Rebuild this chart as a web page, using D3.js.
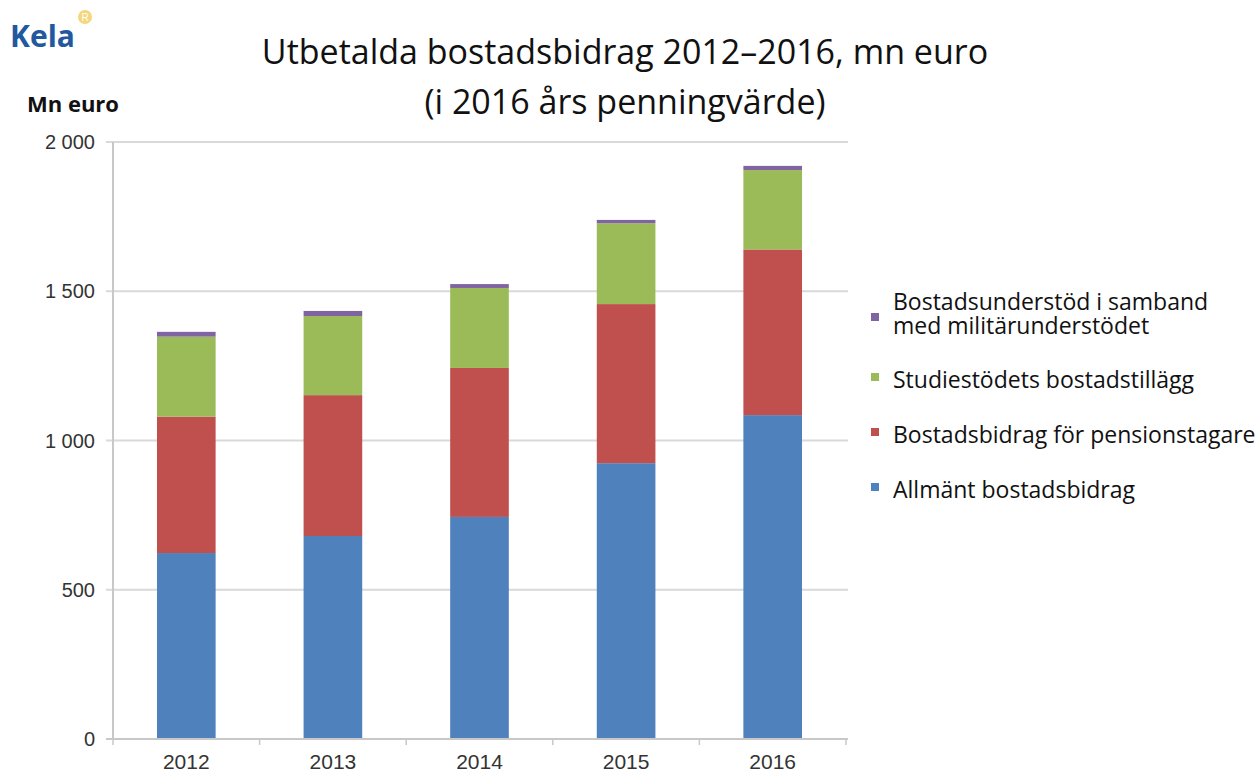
<!DOCTYPE html>
<html>
<head>
<meta charset="utf-8">
<script src="https://cdn.jsdelivr.net/npm/d3@7"></script>
<style>
  body { margin: 0; background: #fff; }
  svg { display: block; }
</style>
</head>
<body>
<div id="chart"></div>
<script>
// data (mn euro)
var years = ["2012", "2013", "2014", "2015", "2016"];
var allmant = [623, 680, 744, 924, 1085];
var pension = [457, 472, 499, 533, 555];
var studie = [268, 265, 268, 271, 266];
var militar = [16, 17, 13, 11, 14];
var yTicks = [0, 500, 1000, 1500, 2000];

var seriesColors = ["#4f81bd", "#c0504d", "#9bbb59", "#8064a2"];

var W = 1255, H = 774;
var plotL = 113, plotR = 846, plotT = 142, plotB = 739;

var svg = d3.select("#chart").append("svg")
    .attr("width", W)
    .attr("height", H);

var rows = years.map(function(y, i) {
  return { year: y, a: allmant[i], p: pension[i], s: studie[i], m: militar[i] };
});
var keys = ["a", "p", "s", "m"];
var stacked = d3.stack().keys(keys)(rows);

var x = d3.scaleBand().domain(years).range([plotL, plotR])
    .paddingInner(0.6).paddingOuter(0.3);
var y = d3.scaleLinear().domain([0, 2000]).range([plotB, plotT]);

var loc = d3.formatLocale({ decimal: ",", thousands: " ", grouping: [3], currency: ["", " €"] });
var fmt = loc.format(",d");

// gridlines
svg.append("g").selectAll("line")
    .data(yTicks.filter(function(d) { return d > 0; }))
  .enter().append("line")
    .attr("x1", plotL - 7).attr("x2", plotR + 2)
    .attr("y1", function(d) { return y(d); })
    .attr("y2", function(d) { return y(d); })
    .attr("stroke", "#d9d9d9")
    .attr("stroke-width", 2);

// bars
svg.append("g").selectAll("g")
    .data(stacked)
  .enter().append("g")
    .attr("fill", function(d, i) { return seriesColors[i]; })
  .selectAll("rect")
    .data(function(d) { return d; })
  .enter().append("rect")
    .attr("x", function(d) { return x(d.data.year); })
    .attr("width", x.bandwidth())
    .attr("y", function(d) { return y(d[1]); })
    .attr("height", function(d) { return y(d[0]) - y(d[1]); });

// y axis
svg.append("line")
    .attr("x1", plotL).attr("x2", plotL)
    .attr("y1", plotT).attr("y2", plotB)
    .attr("stroke", "#c8c8c8").attr("stroke-width", 2);

svg.append("g").selectAll("text")
    .data(yTicks)
  .enter().append("text")
    .attr("x", 95)
    .attr("y", function(d) { return y(d) + 7; })
    .attr("text-anchor", "end")
    .style("font-family", "Liberation Sans, Arial, sans-serif")
    .style("font-size", "20px")
    .attr("fill", "#333")
    .text(function(d) { return fmt(d); });

// x axis
svg.append("line")
    .attr("x1", plotL - 7).attr("x2", plotR + 2)
    .attr("y1", plotB).attr("y2", plotB)
    .attr("stroke", "#c8c8c8").attr("stroke-width", 2);

// tick marks between categories
var step = x.step();
svg.append("g").selectAll("line")
    .data(d3.range(years.length + 1))
  .enter().append("line")
    .attr("x1", function(i) { return plotL + i * step; })
    .attr("x2", function(i) { return plotL + i * step; })
    .attr("y1", plotB).attr("y2", plotB + 6)
    .attr("stroke", "#c8c8c8").attr("stroke-width", 1.5);

svg.append("g").selectAll("text")
    .data(years)
  .enter().append("text")
    .attr("x", function(d) { return x(d) + x.bandwidth() / 2; })
    .attr("y", 769)
    .attr("text-anchor", "middle")
    .style("font-family", "Liberation Sans, Arial, sans-serif")
    .style("font-size", "21px")
    .attr("fill", "#333")
    .text(function(d) { return d; });

// axis title
svg.append("text")
    .attr("x", 27).attr("y", 112)
    .style("font-family", "Open Sans, sans-serif")
    .style("font-weight", "bold")
    .style("font-size", "22px")
    .attr("fill", "#111")
    .text("Mn euro");

// title
var title = svg.append("text")
    .attr("text-anchor", "middle")
    .style("font-family", "Open Sans, sans-serif")
    .style("font-size", "34px")
    .attr("fill", "#111");
title.append("tspan").attr("x", 625).attr("y", 64).text("Utbetalda bostadsbidrag 2012–2016, mn euro");
title.append("tspan").attr("x", 625).attr("y", 114).text("(i 2016 års penningvärde)");

// Kela logo
svg.append("text")
    .attr("x", 10).attr("y", 47)
    .style("font-family", "Open Sans, sans-serif")
    .style("font-weight", "bold")
    .style("font-size", "30px")
    .attr("fill", "#22599e")
    .text("Kela");
svg.append("circle")
    .attr("cx", 85).attr("cy", 17).attr("r", 7)
    .attr("fill", "#f3d77a");
svg.append("text")
    .attr("x", 85).attr("y", 21)
    .attr("text-anchor", "middle")
    .style("font-family", "Liberation Sans, Arial, sans-serif")
    .style("font-size", "10px")
    .attr("fill", "#fff")
    .text("R");

// legend (top to bottom: reverse order of stacking)
var legendItems = [
  { lines: ["Bostadsunderstöd i samband", "med militärunderstödet"], color: seriesColors[3], y: 310 },
  { lines: ["Studiestödets bostadstillägg"], color: seriesColors[2], y: 388 },
  { lines: ["Bostadsbidrag för pensionstagare"], color: seriesColors[1], y: 443 },
  { lines: ["Allmänt bostadsbidrag"], color: seriesColors[0], y: 498 }
];
var legend = svg.selectAll(".legend")
    .data(legendItems)
  .enter().append("g")
    .attr("class", "legend");

legend.append("rect")
    .attr("x", 871)
    .attr("y", function(d) { return d.lines.length > 1 ? d.y + 3 : d.y - 15; })
    .attr("width", 8).attr("height", 8)
    .attr("fill", function(d) { return d.color; });

legend.append("text")
    .style("font-family", "Open Sans, sans-serif")
    .style("font-size", "23px")
    .attr("fill", "#111")
    .each(function(d) {
      var t = d3.select(this);
      d.lines.forEach(function(l, i) {
        t.append("tspan").attr("x", 893).attr("y", d.y + i * 24).text(l);
      });
    });
</script>
</body>
</html>
